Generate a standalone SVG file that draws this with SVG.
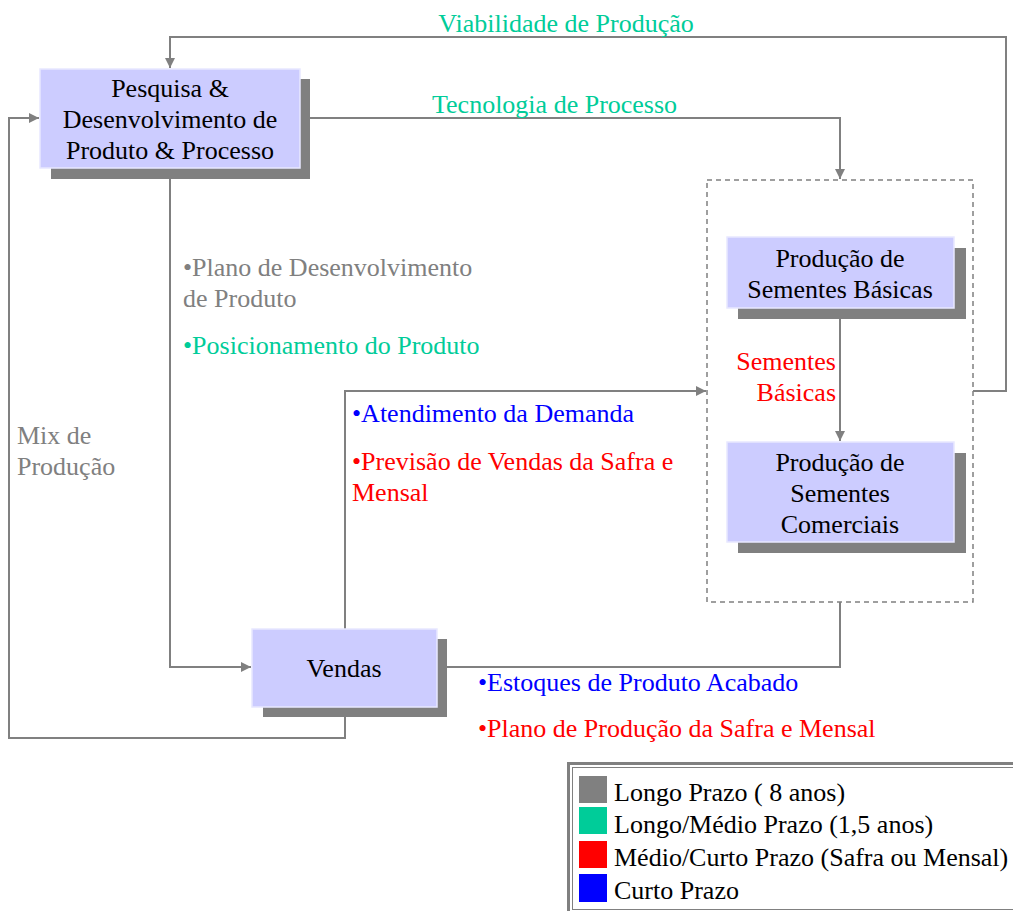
<svg xmlns="http://www.w3.org/2000/svg" width="1013" height="911" viewBox="0 0 1013 911">
<defs>
<marker id="ah" viewBox="0 0 10 10" refX="10" refY="5" markerWidth="10" markerHeight="10" markerUnits="userSpaceOnUse" orient="auto">
<path d="M0,0 L10,5 L0,10 z" fill="#808080"/>
</marker>
</defs>
<style>
text{font-family:"Liberation Serif","Times New Roman",serif;font-size:26px}
.node{fill:#CCCCFF;stroke:#E8E8FF;stroke-width:1.5}
.sh{fill:#808080}
.c{fill:none;stroke:#808080;stroke-width:2}
.nt{fill:#000;text-anchor:middle}
.g{fill:#808080}
.t{fill:#00CC99}
.r{fill:#FF0000}
.b{fill:#0000FF}
</style>
<rect width="1013" height="911" fill="#FFFFFF"/>
<g id="connectors">
<polyline class="c" points="973,391 1006,391 1006,37 170,37 170,68" marker-end="url(#ah)"/>
<polyline class="c" points="310,118 840,118 840,179" marker-end="url(#ah)"/>
<polyline class="c" points="170,179 170,667 251,667" marker-end="url(#ah)"/>
<polyline class="c" points="345,629 345,391 706,391" marker-end="url(#ah)"/>
<polyline class="c" points="345,717 345,738 9,738 9,118 39,118" marker-end="url(#ah)"/>
<polyline class="c" points="840,319 840,441" marker-end="url(#ah)"/>
<polyline class="c" points="840,602 840,667 447,667"/>
<rect x="707" y="180" width="266" height="422" fill="none" stroke="#808080" stroke-width="1.5" stroke-dasharray="5,4"/>
</g>
<g id="pd">
<rect class="sh" x="51" y="79" width="259" height="100"/>
<rect class="node" x="40" y="69" width="260" height="99"/>
<text class="nt" x="170" y="97">Pesquisa &amp;</text>
<text class="nt" x="170" y="128">Desenvolvimento de</text>
<text class="nt" x="170" y="159">Produto &amp; Processo</text>
</g>
<g id="basicas">
<rect class="sh" x="738" y="248" width="228" height="71"/>
<rect class="node" x="727" y="237" width="227" height="71"/>
<text class="nt" x="840" y="267">Produção de</text>
<text class="nt" x="840" y="298">Sementes Básicas</text>
</g>
<g id="comerciais">
<rect class="sh" x="738" y="453" width="228" height="100"/>
<rect class="node" x="727" y="442" width="227" height="100"/>
<text class="nt" x="840" y="471">Produção de</text>
<text class="nt" x="840" y="502">Sementes</text>
<text class="nt" x="840" y="533">Comerciais</text>
</g>
<g id="vendas">
<rect class="sh" x="263" y="639" width="184" height="78"/>
<rect class="node" x="252" y="629" width="185" height="78"/>
<text class="nt" x="344" y="677">Vendas</text>
</g>
<g id="labels">
<text class="t" x="566" y="32" text-anchor="middle">Viabilidade de Produção</text>
<text class="t" x="432" y="113">Tecnologia de Processo</text>
<text class="g" x="183" y="276">•Plano de Desenvolvimento</text>
<text class="g" x="183" y="307">de Produto</text>
<text class="t" x="183" y="354">•Posicionamento do Produto</text>
<text class="g" x="17" y="444">Mix de</text>
<text class="g" x="17" y="475">Produção</text>
<text class="b" x="352" y="422">•Atendimento da Demanda</text>
<text class="r" x="352" y="470">•Previsão de Vendas da Safra e</text>
<text class="r" x="352" y="501">Mensal</text>
<text class="r" x="836" y="370" text-anchor="end">Sementes</text>
<text class="r" x="836" y="401" text-anchor="end">Básicas</text>
<text class="b" x="478" y="691">•Estoques de Produto Acabado</text>
<text class="r" x="478" y="737">•Plano de Produção da Safra e Mensal</text>
</g>
<g id="legend">
<rect x="568.5" y="763.5" width="450" height="150" fill="#FFFFFF" stroke="#808080" stroke-width="3"/>
<rect x="572.5" y="767.5" width="442" height="142" fill="none" stroke="#808080" stroke-width="1"/>
<rect x="579" y="776" width="28" height="27" fill="#808080"/>
<rect x="579" y="807" width="28" height="27" fill="#00CC99"/>
<rect x="579" y="841" width="28" height="27" fill="#FF0000"/>
<rect x="579" y="874" width="28" height="28" fill="#0000FF"/>
<text x="614" y="801">Longo Prazo ( 8 anos)</text>
<text x="614" y="833">Longo/Médio Prazo (1,5 anos)</text>
<text x="614" y="866">Médio/Curto Prazo (Safra ou Mensal)</text>
<text x="614" y="899">Curto Prazo</text>
</g>
</svg>
